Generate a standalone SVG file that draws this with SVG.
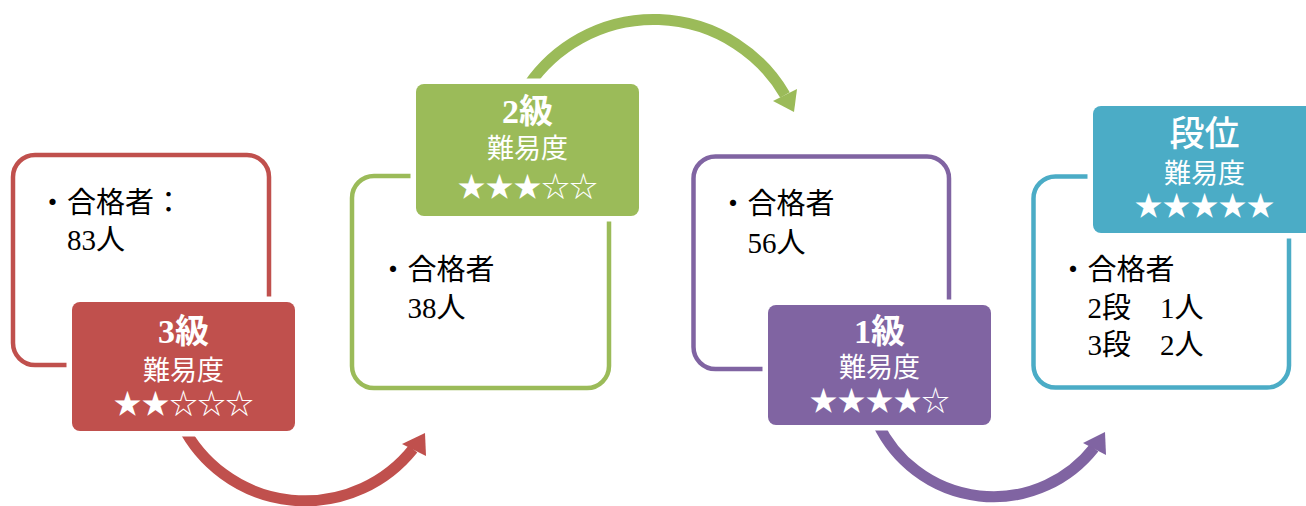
<svg xmlns="http://www.w3.org/2000/svg" width="1306" height="506" viewBox="0 0 1306 506">
<style>
.out{fill:none;stroke-width:4.5}
.lab{stroke:#fff;stroke-width:11;paint-order:stroke}
.arc{fill:none;stroke-width:11}
.body{font-family:"Liberation Serif","Noto Sans CJK JP",serif;font-size:29px;fill:#000}
.t1{font-family:"Liberation Serif","Noto Sans CJK JP",serif;font-size:34px;font-weight:bold;fill:#fff;text-anchor:middle}
.t2{font-family:"Noto Sans CJK JP",sans-serif;font-size:27px;fill:#fff;text-anchor:middle}
.st{font-family:"Noto Sans CJK JP",sans-serif;font-size:28px;fill:#fff;text-anchor:middle}
.red{stroke:#C0504D}.redf{fill:#C0504D}
.grn{stroke:#9BBB59}.grnf{fill:#9BBB59}
.pur{stroke:#8064A2}.purf{fill:#8064A2}
.teal{stroke:#4BACC6}.tealf{fill:#4BACC6}
</style>
<rect width="1306" height="506" fill="#fff"/>
<g id="connectors">
  <path class="arc red" d="M182,425 A138,138 0 0,0 413,449"/>
  <polygon class="redf" points="425,433 402,444 426,456"/>
  <path class="arc grn" d="M528,86 A152,152 0 0,1 785,95"/>
  <polygon class="grnf" points="794,112 773,101 797,89"/>
  <path class="arc pur" d="M878,424 A128,128 0 0,0 1094,448"/>
  <polygon class="purf" points="1105,432 1083,443 1106,455"/>
</g>
<g id="node-3kyu">
  <rect class="out red" x="13" y="155" width="256" height="210" rx="22"/>
  <text class="body" x="38" y="213">・合格者：</text>
  <text class="body" x="67" y="250">83人</text>
  <rect class="lab redf" x="72" y="302" width="223" height="129" rx="8"/>
  <text class="t1" x="183.5" y="343">3級</text>
  <text class="t2" x="183.5" y="380">難易度</text>
  <text class="st" x="183.5" y="414">★★☆☆☆</text>
</g>
<g id="node-2kyu">
  <rect class="out grn" x="352" y="176" width="257" height="212" rx="22"/>
  <text class="body" x="378.5" y="280">・合格者</text>
  <text class="body" x="407.5" y="318">38人</text>
  <rect class="lab grnf" x="416" y="84" width="223" height="132" rx="8"/>
  <text class="t1" x="527.5" y="123">2級</text>
  <text class="t2" x="527.5" y="158">難易度</text>
  <text class="st" x="527.5" y="197">★★★☆☆</text>
</g>
<g id="node-1kyu">
  <rect class="out pur" x="693.5" y="156.5" width="255.5" height="212.5" rx="22"/>
  <text class="body" x="718.5" y="214">・合格者</text>
  <text class="body" x="747.5" y="253">56人</text>
  <rect class="lab purf" x="768" y="305" width="223" height="120" rx="8"/>
  <text class="t1" x="879.5" y="343">1級</text>
  <text class="t2" x="879.5" y="377">難易度</text>
  <text class="st" x="879.5" y="411">★★★★☆</text>
</g>
<g id="node-dan">
  <rect class="out teal" x="1033.5" y="176.5" width="255.5" height="211" rx="22"/>
  <text class="body" x="1058.5" y="280">・合格者</text>
  <text class="body" x="1087.5" y="318" xml:space="preserve">2段　1人</text>
  <text class="body" x="1087.5" y="355" xml:space="preserve">3段　2人</text>
  <rect class="lab tealf" x="1093" y="106" width="223" height="127" rx="8"/>
  <text class="t1" x="1204.5" y="146" style="font-size:35px;font-weight:500">段位</text>
  <text class="t2" x="1204.5" y="183">難易度</text>
  <text class="st" x="1204.5" y="216">★★★★★</text>
</g>
</svg>
